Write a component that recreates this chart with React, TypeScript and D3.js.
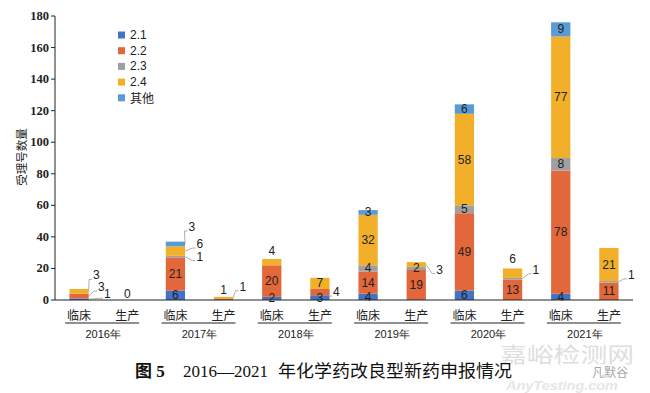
import * as d3 from 'd3';

const years = ['2016年', '2017年', '2018年', '2019年', '2020年', '2021年'];
const stages = ['临床', '生产'];

const seriesKeys = ['2.1', '2.2', '2.3', '2.4', '其他'];
const s21 = [1, 0, 6, 0, 2, 3, 4, 0, 6, 0, 4, 0];
const s22 = [3, 0, 21, 1, 20, 4, 14, 19, 49, 13, 78, 11];
const s23 = [0, 0, 1, 0, 0, 0, 4, 2, 5, 1, 8, 1];
const s24 = [3, 0, 6, 1, 4, 7, 32, 3, 58, 6, 77, 21];
const sOther = [0, 0, 3, 0, 0, 0, 3, 0, 6, 0, 9, 0];
const yTicks = [0, 20, 40, 60, 80, 100, 120, 140, 160, 180];

const colors = ['#4472c4', '#e2673a', '#a0a0a0', '#f2b02a', '#5b9bd5'];

// labels that sit outside the bar (offset from segment centre)
const outside: Record<string, { dx: number; dy: number; leader: boolean }> = {
	'0-2.4': { dx: 17, dy: -16, leader: true },
	'0-2.2': { dx: 22, dy: -9, leader: true },
	'0-2.1': { dx: 28, dy: -5, leader: true },
	'2-2.3': { dx: 24, dy: 0, leader: true },
	'2-2.4': { dx: 24, dy: -7, leader: true },
	'2-其他': { dx: 16, dy: -17, leader: true },
	'3-2.2': { dx: 0, dy: -9, leader: false },
	'3-2.4': { dx: 19, dy: -11, leader: true },
	'4-2.4': { dx: 0, dy: -11, leader: false },
	'5-2.2': { dx: 16, dy: 0, leader: true },
	'7-2.4': { dx: 23, dy: 5, leader: true },
	'9-2.3': { dx: 23, dy: -9, leader: true },
	'9-2.4': { dx: 0, dy: -14, leader: false },
	'11-2.3': { dx: 22, dy: -7, leader: true },
};

export default function App() {
	const width = 650;
	const height = 393;
	const left = 55;
	const right = 633;
	const top = 16;
	const bottom = 300;

	const cats = years.flatMap((y) => stages.map((s) => `${y}-${s}`));
	const table = cats.map((c, i) => ({
		cat: c,
		'2.1': s21[i],
		'2.2': s22[i],
		'2.3': s23[i],
		'2.4': s24[i],
		其他: sOther[i],
	}));
	const stacked = d3.stack<any>().keys(seriesKeys)(table);

	const x = d3.scaleBand().domain(cats).range([left, right]).paddingInner(0.6).paddingOuter(0.3);
	const y = d3.scaleLinear().domain([0, 180]).range([bottom, top]);
	const step = (right - left) / cats.length;
	const bw = x.bandwidth();

	const sans = 'Liberation Sans, Arial, sans-serif';
	const cjk = '"Noto Sans CJK SC", sans-serif';

	return (
		<svg width={width} height={height} style={{ position: 'absolute', left: 0, top: 0, background: '#fff' }}>
			{/* watermark (behind) */}
			<text x={500} y={362} fontFamily={cjk} fontSize={21} fill='#dedede' textLength={134} lengthAdjust='spacingAndGlyphs'>
				嘉峪检测网
			</text>
			<text x={506} y={390} fontFamily={sans} fontStyle='italic' fontWeight='bold' fontSize={13} fill='#e6e6e6' textLength={112} lengthAdjust='spacingAndGlyphs'>
				AnyTesting.com
			</text>
			<text x={592} y={377} fontFamily={cjk} fontSize={12} fill='#a8a8a8'>
				凡默谷
			</text>

			{/* bars */}
			{stacked.map((layer, si) =>
				layer.map((d, i) =>
					d[1] - d[0] > 0 ? (
						<rect
							key={`${si}-${i}`}
							x={x(cats[i])}
							y={y(d[1])}
							width={bw}
							height={y(d[0]) - y(d[1])}
							fill={colors[si]}
						/>
					) : null
				)
			)}

			{/* value labels */}
			{stacked.map((layer, si) =>
				layer.map((d, i) => {
					const v = d[1] - d[0];
					if (v <= 0) return null;
					const cx = (x(cats[i]) as number) + bw / 2;
					const cy = y((d[0] + d[1]) / 2);
					const o = outside[`${i}-${seriesKeys[si]}`];
					if (!o)
						return (
							<text key={`l${si}-${i}`} x={cx} y={cy} textAnchor='middle' dominantBaseline='central' fontFamily={sans} fontSize={12} fill='#222'>
								{v}
							</text>
						);
					const lx = cx + o.dx;
					const ly = cy + o.dy;
					return (
						<g key={`l${si}-${i}`}>
							{o.leader && (
								<polyline
									points={`${cx + bw / 2},${cy} ${lx - 7},${ly + 4} ${lx - 4},${ly + 4}`}
									fill='none'
									stroke='#9a9a9a'
									strokeWidth={0.8}
								/>
							)}
							<text x={lx} y={ly} textAnchor={o.leader ? 'start' : 'middle'} dominantBaseline='central' fontFamily={sans} fontSize={12} fill='#222' dx={o.leader ? -3 : 0}>
								{v}
							</text>
						</g>
					);
				})
			)}

			{/* zero label */}
			{cats.map((c, i) => {
				const total = s21[i] + s22[i] + s23[i] + s24[i] + sOther[i];
				return total === 0 ? (
					<text key={`z${i}`} x={(x(c) as number) + bw / 2} y={y(0) - 6} textAnchor='middle' dominantBaseline='central' fontFamily={sans} fontSize={12} fill='#222'>
						0
					</text>
				) : null;
			})}

			{/* y axis */}
			<line x1={left} x2={left} y1={top} y2={bottom} stroke='#222' strokeWidth={1} />
			{yTicks.map((t) => (
				<g key={t}>
					<line x1={left - 4} x2={left} y1={y(t)} y2={y(t)} stroke='#222' />
					<text x={left - 6} y={y(t)} textAnchor='end' dominantBaseline='central' fontFamily='Liberation Serif, serif' fontWeight='bold' fontSize={12.5} fill='#222'>
						{t}
					</text>
				</g>
			))}
			<text transform={`translate(21,157) rotate(-90)`} textAnchor='middle' dominantBaseline='central' fontFamily={cjk} fontSize={11.5} fill='#222'>
				受理号数量
			</text>

			{/* x axis */}
			<line x1={left} x2={right} y1={bottom} y2={bottom} stroke='#222' strokeWidth={1} />
			{cats.map((c, i) => (
				<text key={c} x={(x(c) as number) + bw / 2} y={314} textAnchor='middle' dominantBaseline='central' fontFamily={cjk} fontSize={12} fill='#222'>
					{stages[i % 2]}
				</text>
			))}
			{years.map((yr, i) => {
				const cx = left + step * (2 * i + 1);
				return (
					<g key={yr}>
						<line x1={cx - 38} x2={cx + 36} y1={323} y2={323} stroke='#222' strokeWidth={1} />
						<text x={cx} y={334} textAnchor='middle' dominantBaseline='central' fontFamily={sans} fontSize={11} fill='#222'>
							{yr}
						</text>
					</g>
				);
			})}

			{/* legend */}
			{seriesKeys.map((k, i) => (
				<g key={k} transform={`translate(118,${35 + i * 15.7})`}>
					<rect x={0} y={-3.5} width={7} height={7} fill={colors[i]} />
					<text x={12} y={0} dominantBaseline='central' fontFamily={k === '其他' ? cjk : sans} fontSize={12} fill='#222'>
						{k}
					</text>
				</g>
			))}

			{/* caption */}
			<text x={135} y={377} fontFamily='Liberation Serif, serif' fontSize={17} fill='#111'>
				<tspan fontWeight='bold' fontFamily={cjk}>图</tspan>
				<tspan fontWeight='bold'> 5</tspan>
				<tspan x={183}>2016—2021 </tspan>
				<tspan fontFamily={cjk} x={278} textLength={234} lengthAdjust='spacingAndGlyphs'>年化学药改良型新药申报情况</tspan>
			</text>
		</svg>
	);
}
